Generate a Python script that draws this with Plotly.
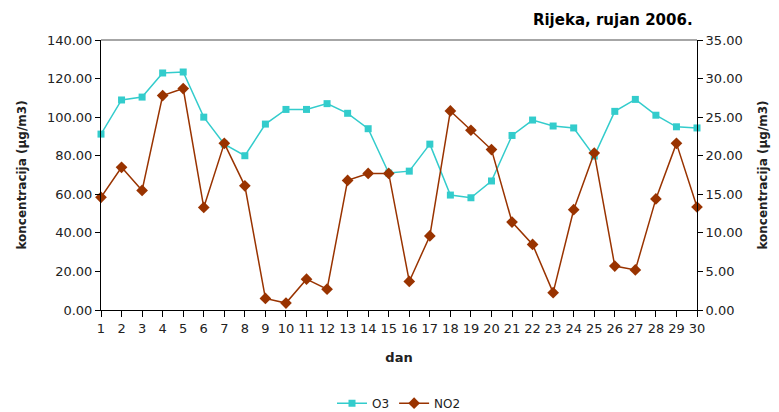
import plotly.graph_objects as go

days = list(range(1, 31))
o3 = [91.2, 108.9, 110.4, 122.9, 123.4, 100.0, 86.0, 80.0, 96.4, 104.0,
      104.0, 107.0, 102.0, 94.0, 71.0, 72.0, 86.0, 59.6, 58.2, 66.9,
      90.5, 98.5, 95.4, 94.4, 79.8, 103.0, 109.2, 101.0, 95.0, 94.4]
no2 = [14.6, 18.5, 15.5, 27.8, 28.7, 13.3, 21.6, 16.1, 1.5, 0.9,
       4.0, 2.7, 16.8, 17.7, 17.7, 3.7, 9.6, 25.8, 23.3, 20.8,
       11.4, 8.5, 2.25, 13.0, 20.35, 5.7, 5.2, 14.4, 21.6, 13.35]
left_ticks = [0, 20, 40, 60, 80, 100, 120, 140]
right_ticks = [0, 5, 10, 15, 20, 25, 30, 35]

font = "DejaVu Sans, Arial, sans-serif"

fig = go.Figure()
fig.add_trace(go.Scatter(x=days, y=o3, name="O3", mode="lines+markers",
                         line=dict(color="#33CCCC", width=1.5),
                         marker=dict(symbol="square", size=7, color="#33CCCC"),
                         cliponaxis=False))
fig.add_trace(go.Scatter(x=days, y=no2, name="NO2", mode="lines+markers", yaxis="y2",
                         line=dict(color="#993300", width=1.5),
                         marker=dict(symbol="diamond", size=9, color="#993300"),
                         cliponaxis=False))

# page body has ~8px margin, so the figure is a bit smaller than the window
fig.update_layout(
    width=771, height=404,
    margin=dict(l=93, r=82, t=32, b=102, autoexpand=False),
    paper_bgcolor="white", plot_bgcolor="white",
    font=dict(family=font, size=13, color="#222"),
    title=dict(text="<b>Rijeka, rujan 2006.</b>", x=0.888, xanchor="right",
               y=0.97, yanchor="middle", font=dict(size=15, color="black")),
    xaxis=dict(range=[1, 30], tickvals=days, showgrid=False, zeroline=False,
               showline=True, linecolor="black", linewidth=1,
               ticks="outside", ticklen=6, tickcolor="black",
               title=dict(text="<b>dan</b>", standoff=18, font=dict(size=13))),
    yaxis=dict(range=[0, 140], tickvals=left_ticks,
               ticktext=["%.2f" % v for v in left_ticks],
               showgrid=False, zeroline=False, showline=True, linecolor="black",
               ticks="outside", ticklen=5, tickcolor="black",
               title=dict(text="<b>koncentracija (µg/m3)</b>", standoff=17,
                          font=dict(size=12))),
    yaxis2=dict(range=[0, 35], tickvals=right_ticks,
                ticktext=["%.2f" % v for v in right_ticks],
                overlaying="y", side="right", showgrid=False, zeroline=False,
                showline=True, linecolor="black",
                ticks="outside", ticklen=5, tickcolor="black",
                title=dict(text="<b>koncentracija (µg/m3)</b>", standoff=16,
                           font=dict(size=12))),
    legend=dict(orientation="h", x=0.5, xanchor="center", y=-0.345, yanchor="middle",
                font=dict(size=12)),
    showlegend=True,
)
fig.add_shape(type="line", xref="paper", yref="paper", x0=0, x1=1, y0=1, y1=1,
              line=dict(color="#888", width=1.5))

fig.write_html("out.html")
